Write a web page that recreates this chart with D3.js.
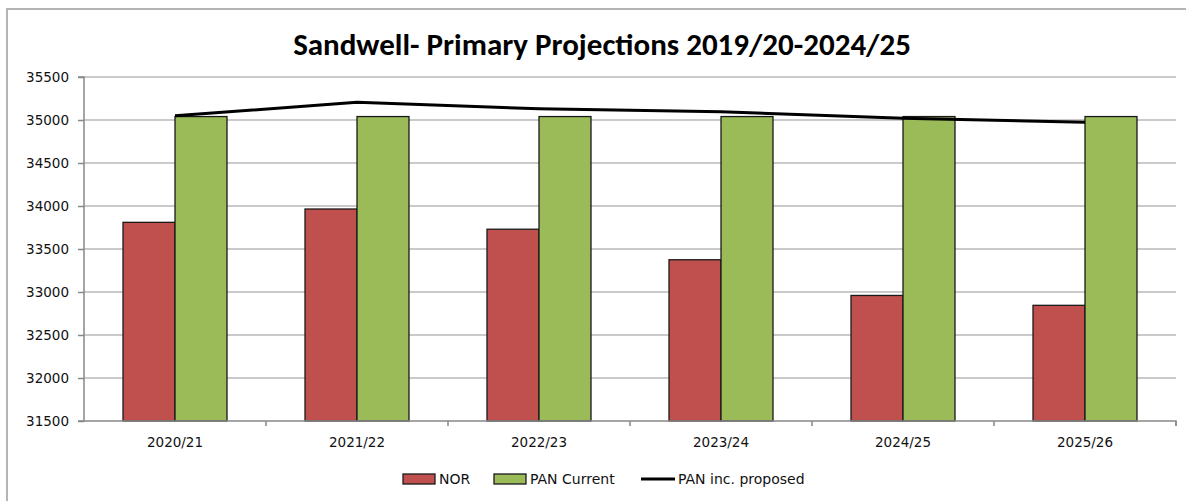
<!DOCTYPE html>
<html><head><meta charset="utf-8">
<script src="https://cdn.jsdelivr.net/npm/d3@7"></script>
<style>
html,body{margin:0;padding:0;background:#fff;}
svg{display:block;}
</style></head>
<body>
<svg id="chart" width="1186" height="501"></svg>
<script>
const title = "Sandwell- Primary Projections 2019/20-2024/25";
const categories = ["2020/21","2021/22","2022/23","2023/24","2024/25","2025/26"];
const norValues = [33810, 33965, 33730, 33375, 32960, 32845];
const panCurrent = [35040, 35040, 35040, 35040, 35040, 35040];
const panProposed = [35050, 35205, 35130, 35095, 35020, 34975];
const yTicks = [31500, 32000, 32500, 33000, 33500, 34000, 34500, 35000, 35500];
const seriesNames = ["NOR", "PAN Current", "PAN inc. proposed"];

const svg = d3.select("#chart");
const W = 1186, H = 501;
const plot = {left: 84, right: 1176, top: 77, bottom: 421};
const tickFont = "'DejaVu Sans', Verdana, sans-serif";

// outer border
svg.append("path")
  .attr("d", `M7,${H} L7,9 L${W},9`)
  .attr("fill", "none").attr("stroke", "#b4b4b4").attr("stroke-width", 2);

// title
svg.append("text")
  .attr("x", 602).attr("y", 55)
  .attr("text-anchor", "middle")
  .attr("font-family", "Carlito, 'Liberation Sans Narrow', 'Arial Narrow', sans-serif")
  .attr("font-weight", "bold").attr("font-size", 31)
  .attr("fill", "#000")
  .text(title);

const x = d3.scaleBand().domain(categories).range([plot.left, plot.right]).paddingInner(0).paddingOuter(0);
const y = d3.scaleLinear().domain([31500, 35500]).range([plot.bottom, plot.top]);

// gridlines
svg.append("g").selectAll("line").data(yTicks.slice(1)).join("line")
  .attr("x1", plot.left).attr("x2", plot.right)
  .attr("y1", d => y(d)).attr("y2", d => y(d))
  .attr("stroke", "#b8b8b8").attr("stroke-width", 1.6);

// bars
const bw = x.bandwidth() * 52 / 182;
const gap = (x.bandwidth() - 2 * bw) / 2;
const gBars = svg.append("g");
gBars.selectAll("rect.nor").data(categories).join("rect")
  .attr("class", "nor")
  .attr("x", d => x(d) + gap).attr("width", bw)
  .attr("y", (d, i) => y(norValues[i])).attr("height", (d, i) => y(31500) - y(norValues[i]))
  .attr("fill", "#c0504d").attr("stroke", "#1a1a1a").attr("stroke-width", 1.3);
gBars.selectAll("rect.pan").data(categories).join("rect")
  .attr("class", "pan")
  .attr("x", d => x(d) + gap + bw).attr("width", bw)
  .attr("y", (d, i) => y(panCurrent[i])).attr("height", (d, i) => y(31500) - y(panCurrent[i]))
  .attr("fill", "#9bbb59").attr("stroke", "#1a1a1a").attr("stroke-width", 1.3);

// line
const line = d3.line().x((d, i) => x(categories[i]) + x.bandwidth() / 2).y(d => y(d));
svg.append("path").datum(panProposed)
  .attr("d", line).attr("fill", "none").attr("stroke", "#000").attr("stroke-width", 3)
  .attr("stroke-linejoin", "round");

// y axis
const yAxis = d3.axisLeft(y).tickValues(yTicks).tickSize(6).tickPadding(9).tickFormat(d3.format("d"));
const gy = svg.append("g").attr("transform", `translate(${plot.left},0)`).call(yAxis);
gy.select(".domain").attr("stroke", "#888").attr("stroke-width", 1.5).attr("d", `M-6,${plot.top}H0V${plot.bottom}H-6`);
gy.selectAll(".tick line").attr("stroke", "#888").attr("stroke-width", 1.5);
gy.selectAll(".tick text").attr("font-family", tickFont).attr("font-size", 13.5).attr("fill", "#111");

// x axis
const xAxis = d3.axisBottom(x).tickSize(0).tickPadding(16);
const gx = svg.append("g").attr("transform", `translate(0,${plot.bottom})`).call(xAxis);
gx.select(".domain").attr("stroke", "#888").attr("stroke-width", 1.5).attr("d", `M${plot.left},0H${plot.right}V5`);
gx.selectAll(".tick text").attr("font-family", tickFont).attr("font-size", 13.5).attr("fill", "#111");
// boundary ticks
svg.append("g").selectAll("line").data(categories.slice(1).concat(["__end"])).join("line")
  .attr("x1", d => d === "__end" ? plot.right : x(d)).attr("x2", d => d === "__end" ? plot.right : x(d))
  .attr("y1", plot.bottom).attr("y2", plot.bottom + 5)
  .attr("stroke", "#888").attr("stroke-width", 1.5);

// legend
const lg = svg.append("g").attr("font-family", tickFont).attr("font-size", 14).attr("fill", "#111");
const legendItems = [
  {name: seriesNames[0], type: "rect", fill: "#c0504d", x: 403},
  {name: seriesNames[1], type: "rect", fill: "#9bbb59", x: 494},
  {name: seriesNames[2], type: "line", x: 641}
];
legendItems.forEach(it => {
  if (it.type === "rect") {
    lg.append("rect").attr("x", it.x).attr("y", 474).attr("width", 32).attr("height", 10)
      .attr("fill", it.fill).attr("stroke", "#1a1a1a").attr("stroke-width", 1.3);
    lg.append("text").attr("x", it.x + 36).attr("y", 484).text(it.name);
  } else {
    lg.append("line").attr("x1", it.x).attr("x2", it.x + 34).attr("y1", 479).attr("y2", 479)
      .attr("stroke", "#000").attr("stroke-width", 3);
    lg.append("text").attr("x", it.x + 37).attr("y", 484).text(it.name);
  }
});
</script>
</body></html>
